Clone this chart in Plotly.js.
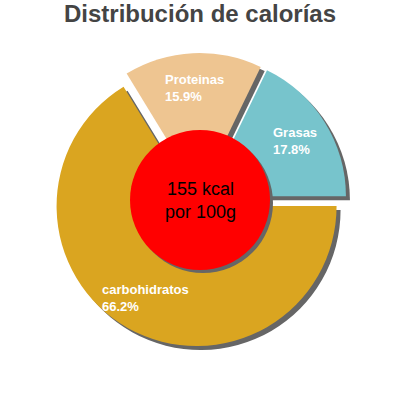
<!DOCTYPE html>
<html>
<head>
<meta charset="utf-8">
<script src="https://cdn.plot.ly/plotly-3.0.1.min.js"></script>
<style>html,body{margin:0;padding:0;background:#fff}#chart{width:400px;height:400px}</style>
</head>
<body>
<div id="chart"></div>
<script>
const categories = ["Grasas", "Proteinas", "carbohidratos"];
const percents = [17.8, 15.9, 66.2];
const colors = ["#77C4CC", "#EEC591", "#DAA520"];
const kcal = 155;
const centerLabel = ["kcal", "por 100g"];

const W = 400, H = 400;
const cx = 200, cy = 200, R = 140, pull = 0.05, shadow = 4;
const half = R * (1 + pull);
const dom = (dx, dy) => ({
  x: [(cx - half + dx) / W, (cx + half + dx) / W],
  y: [(H - cy - half - dy) / H, (H - cy + half - dy) / H]
});

const total = percents.reduce((a, b) => a + b, 0);
// first slice starts at 3 o'clock going counterclockwise
const rot = 90 - 360 * percents[0] / total;
const common = {
  type: 'pie', values: percents, labels: categories, sort: false,
  direction: 'counterclockwise', rotation: rot, pull: categories.map(() => pull),
  textinfo: 'none', hoverinfo: 'skip', showlegend: false
};
const shadowTrace = Object.assign({}, common, {
  marker: {colors: categories.map(() => '#666666'), line: {width: 0}},
  domain: dom(shadow, shadow)
});
const mainTrace = Object.assign({}, common, {
  marker: {colors: colors, line: {width: 0}},
  domain: dom(0, 0)
});

let cum = 0;
const annotations = categories.map((c, i) => {
  const frac = percents[i] / total;
  const mid = (cum + frac / 2) * 2 * Math.PI;
  cum += frac;
  const d = pull * R + 0.75 * R;
  const px = cx + d * Math.cos(mid), py = cy - d * Math.sin(mid);
  return {
    xref: 'paper', yref: 'paper', x: px / W, y: (H - py) / H,
    xanchor: 'center', yanchor: 'middle', align: 'left', showarrow: false,
    text: '<b>' + c + '<br>' + percents[i].toFixed(1) + '%</b>',
    font: {family: 'Liberation Sans, Arial, sans-serif', size: 13, color: '#ffffff'}
  };
});
annotations.push({
  xref: 'paper', yref: 'paper', x: cx / W, y: (H - cy) / H,
  xanchor: 'center', yanchor: 'middle', showarrow: false,
  text: kcal + ' ' + centerLabel[0] + '<br>' + centerLabel[1],
  font: {family: 'Liberation Sans, Arial, sans-serif', size: 18, color: '#000000'}
});

const cr = 70;
const circ = (dx, dy, col) => ({
  type: 'circle', xref: 'paper', yref: 'paper', layer: 'above',
  x0: (cx - cr + dx) / W, x1: (cx + cr + dx) / W,
  y0: (H - cy - cr - dy) / H, y1: (H - cy + cr - dy) / H,
  fillcolor: col, line: {width: 0}
});

const layout = {
  width: W, height: H,
  margin: {l: 0, r: 0, t: 0, b: 0},
  paper_bgcolor: '#ffffff',
  title: {
    text: '<b>Distribución de calorías</b>',
    x: 0.5, xanchor: 'center', y: 1 - 14 / H, yanchor: 'middle', yref: 'paper',
    font: {family: 'Liberation Sans, Arial, sans-serif', size: 24, color: '#444444'}
  },
  shapes: [circ(3, 3, '#666666'), circ(0, 0, '#ff0000')],
  annotations: annotations
};

Plotly.newPlot('chart', [shadowTrace, mainTrace], layout, {displayModeBar: false, staticPlot: true});
</script>
</body>
</html>
